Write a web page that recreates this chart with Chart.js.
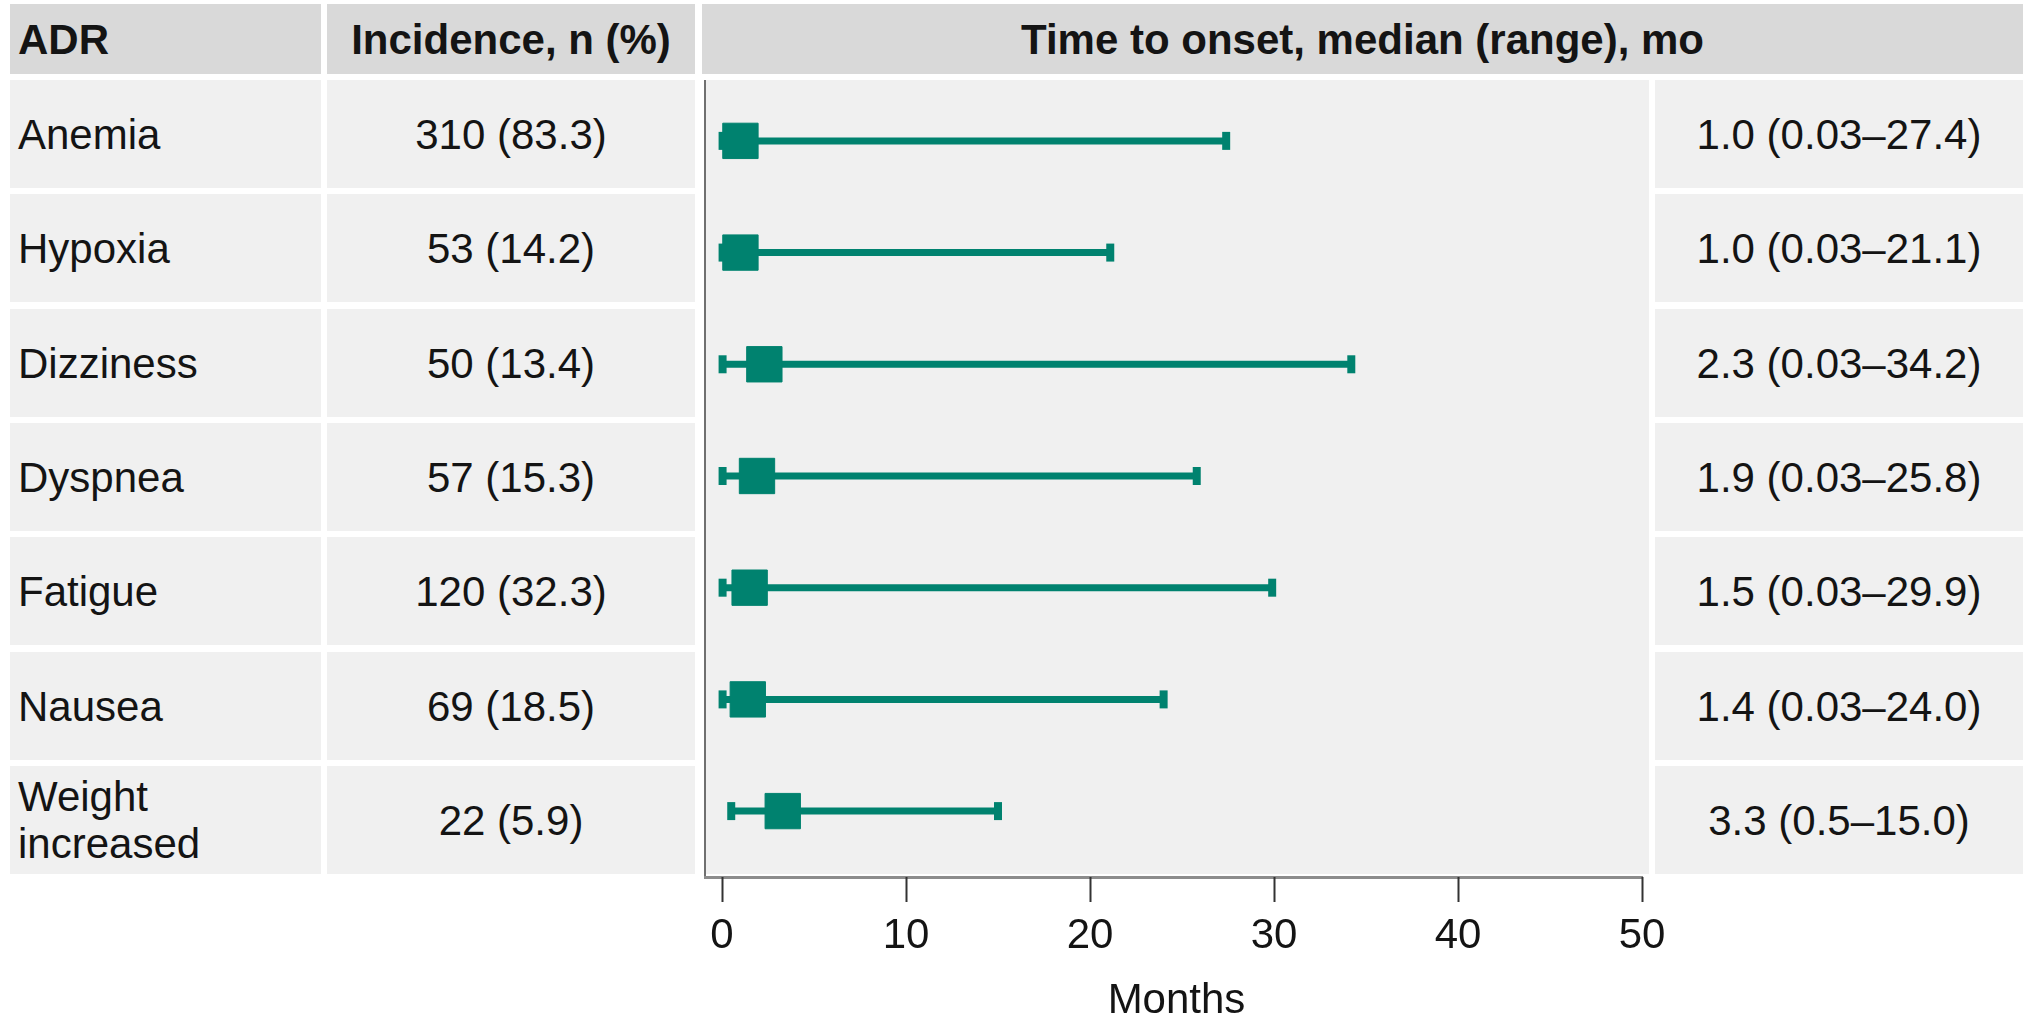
<!DOCTYPE html>
<html lang="en">
<head>
  <meta charset="UTF-8">
  <title>ADR time to onset</title>
  <script src="https://cdn.jsdelivr.net/npm/chart.js"></script>
  <style>
    body {
      margin: 0;
      width: 2023px;
      height: 1019px;
      overflow: hidden;
      background: #fff;
      font-family: 'Liberation Sans', Arial, sans-serif;
      color: #141414;
      position: relative;
    }
    #chart {
      position: absolute;
      left: 0;
      top: 0;
    }
    .cell {
      position: absolute;
      box-sizing: border-box;
      display: flex;
      align-items: center;
      font-size: 42px;
      line-height: 47px;
      background: #f0f0f0;
    }
    .head {
      background: #d9d9d9;
      font-weight: bold;
    }
    .left { justify-content: flex-start; padding-left: 8px; padding-right: 10px; }
    .center { justify-content: center; text-align: center; }
  </style>
</head>
<body>
  <canvas id="chart" width="2023" height="1022"></canvas>
  <div id="table"></div>

  <script>
    // data
    const adrLabels = ['Anemia', 'Hypoxia', 'Dizziness', 'Dyspnea', 'Fatigue', 'Nausea', 'Weight increased'];
    const incidenceN = [310, 53, 50, 57, 120, 69, 22];
    const incidencePct = [83.3, 14.2, 13.4, 15.3, 32.3, 18.5, 5.9];
    const onsetMedian = [1.0, 1.0, 2.3, 1.9, 1.5, 1.4, 3.3];
    const onsetMin = [0.03, 0.03, 0.03, 0.03, 0.03, 0.03, 0.5];
    const onsetMax = [27.4, 21.1, 34.2, 25.8, 29.9, 24.0, 15.0];
    const monthTicks = [0, 10, 20, 30, 40, 50];
    const headers = ['ADR', 'Incidence, n (%)', 'Time to onset, median (range), mo'];

    const TEAL = '#00826f';
    const FONT = "'Liberation Sans', Arial, sans-serif";

    // table cells (html)
    const table = document.getElementById('table');
    function addCell(text, x, y, w, h, cls) {
      const div = document.createElement('div');
      div.className = 'cell ' + cls;
      div.style.left = x + 'px';
      div.style.top = y + 'px';
      div.style.width = w + 'px';
      div.style.height = h + 'px';
      div.textContent = text;
      table.appendChild(div);
    }

    addCell(headers[0], 10, 4, 311, 70, 'head left');
    addCell(headers[1], 327, 4, 368, 70, 'head center');
    addCell(headers[2], 702, 4, 1321, 70, 'head center');

    const rowPitch = 114.3;
    adrLabels.forEach((name, i) => {
      const top = Math.round(80 + i * rowPitch);
      addCell(name, 10, top, 311, 108, 'left');
      addCell(`${incidenceN[i]} (${incidencePct[i].toFixed(1)})`, 327, top, 368, 108, 'center');
      addCell(`${onsetMedian[i].toFixed(1)} (${onsetMin[i]}\u2013${onsetMax[i].toFixed(1)})`, 1655, top, 368, 108, 'center');
    });

    // grey panel, left axis line, and bottom axis line that stops at the last tick
    const plotBackground = {
      id: 'plotBackground',
      beforeDraw(chart) {
        const { ctx, chartArea: { left, top, right, bottom } } = chart;
        const xEnd = chart.scales.x.getPixelForValue(monthTicks[monthTicks.length - 1]);
        ctx.save();
        ctx.fillStyle = '#f0f0f0';
        ctx.fillRect(left, top, right - left, bottom - top - 3);
        ctx.strokeStyle = '#707070';
        ctx.lineWidth = 2;
        ctx.beginPath();
        ctx.moveTo(left + 1, top);
        ctx.lineTo(left + 1, bottom);
        ctx.stroke();
        ctx.strokeStyle = '#8c8c8c';
        ctx.lineWidth = 3;
        ctx.beginPath();
        ctx.moveTo(left, bottom + 0.5);
        ctx.lineTo(xEnd + 1, bottom + 0.5);
        ctx.stroke();
        ctx.restore();
      }
    };

    const rangeSets = adrLabels.map((name, i) => ({
      label: name,
      data: [{ x: onsetMin[i], y: i + 1 }, { x: onsetMax[i], y: i + 1 }],
      showLine: true,
      borderColor: TEAL,
      borderWidth: 7,
      borderCapStyle: 'butt',
      pointStyle: 'line',
      pointRotation: 90,
      pointRadius: 9,
      pointBorderWidth: 8,
      pointBorderColor: TEAL,
      order: 2
    }));

    const medianSet = {
      label: 'Median',
      data: onsetMedian.map((m, i) => ({ x: m, y: i + 1 })),
      pointStyle: 'rect',
      pointRadius: 25,
      backgroundColor: TEAL,
      borderColor: TEAL,
      pointBorderWidth: 1,
      order: 1
    };

    new Chart(document.getElementById('chart'), {
      type: 'scatter',
      data: { datasets: [medianSet, ...rangeSets] },
      options: {
        responsive: false,
        animation: false,
        events: [],
        layout: {
          autoPadding: false,
          padding: { left: 704, top: 80, right: 374, bottom: 0 }
        },
        plugins: {
          legend: { display: false },
          tooltip: { enabled: false }
        },
        scales: {
          x: {
            type: 'linear',
            min: -0.98,
            max: 50.38,
            afterBuildTicks: (scale) => {
              scale.ticks = monthTicks.map(v => ({ value: v }));
            },
            grid: {
              drawOnChartArea: false,
              drawTicks: true,
              tickLength: 25,
              tickWidth: 2,
              tickColor: '#333'
            },
            border: { display: false },
            ticks: {
              padding: 13,
              color: '#141414',
              font: { family: FONT, size: 42, lineHeight: 1 }
            },
            title: {
              display: true,
              text: 'Months',
              color: '#141414',
              padding: { top: 10, bottom: 0 },
              font: { family: FONT, size: 42, lineHeight: 1 }
            }
          },
          y: {
            type: 'linear',
            display: false,
            reverse: true,
            min: 0.455,
            max: 7.59
          }
        }
      },
      plugins: [plotBackground]
    });
  </script>
</body>
</html>
